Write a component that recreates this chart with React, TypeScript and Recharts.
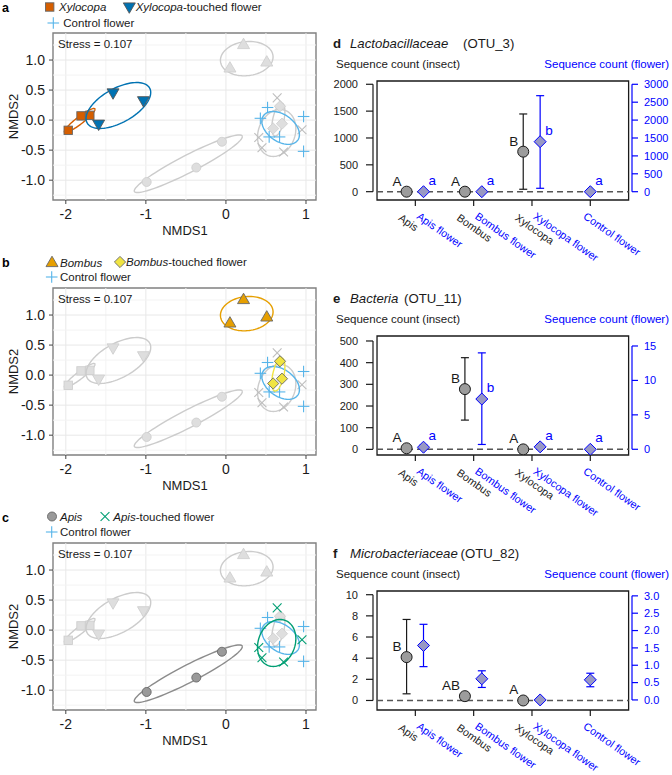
import React from 'react'
import {
  ErrorBar,
  ReferenceArea,
  ReferenceLine,
  Scatter,
  ScatterChart,
  XAxis,
  YAxis,
} from 'recharts'

const FONT = '"Liberation Sans", Arial, Helvetica, sans-serif'
const BLUE = '#0000ff'
const INK = '#1a1a1a'

/* ---------- NMDS scores [NMDS1, NMDS2] ---------- */
const apisPts = [[-0.99, -1.03], [-0.37, -0.79], [-0.05, -0.36]]
const apisFlowerPts = [[0.64, 0.37], [0.41, -0.29], [0.45, -0.46], [0.72, -0.53], [0.95, -0.16]]
const bombusPts = [[0.05, 0.86], [0.22, 1.25], [0.51, 0.96]]
const bombusFlowerPts = [[0.675, 0.23], [0.59, -0.14], [0.7, -0.06]]
const xylocopaPts = [[-1.97, -0.17], [-1.81, 0.07], [-1.7, 0.08]]
const xylocopaFlowerPts = [[-1.41, 0.46], [-1.03, 0.33], [-1.59, -0.06]]
const controlPts = [[0.43, 0.03], [0.52, 0.21], [0.54, -0.28], [0.67, -0.28], [0.97, 0.06], [0.97, -0.52]]

const nmdsXTicks = [-2, -1, 0, 1]
const nmdsYTicks = [-1, -0.5, 0, 0.5, 1]
const nmdsXGrid = [-2, -1.5, -1, -0.5, 0, 0.5, 1]
const nmdsYGrid = [-1.25, -1, -0.75, -0.5, -0.25, 0, 0.25, 0.5, 0.75, 1, 1.25]
const NMDS_X: [number, number] = [-2.16, 1.125]
const NMDS_Y: [number, number] = [-1.33, 1.45]

/* ---------- sequence counts (mean, error bar low / high) ---------- */
const insectNames = ['Apis', 'Bombus', 'Xylocopa']
const flowerNames = ['Apis flower', 'Bombus flower', 'Xylocopa flower', 'Control flower']
const catTicks = [1, 2, 3, 4]

const lactoInsectMean = [0, 0, 745]
const lactoInsectLow = [0, 0, 45]
const lactoInsectHigh = [0, 0, 1447]
const lactoFlowerMean = [0, 0, 1397, 0]
const lactoFlowerLow = [0, 0, 95, 0]
const lactoFlowerHigh = [0, 0, 2682, 0]
const lactoInsectLetters = ['A', 'A', 'B']
const lactoFlowerLetters = ['a', 'a', 'b', 'a']

const bactInsectMean = [5, 278, 0]
const bactInsectLow = [1, 135, 0]
const bactInsectHigh = [9, 423, 0]
const bactFlowerMean = [0.3, 7.3, 0.35, 0]
const bactFlowerLow = [0, 0.7, 0, 0]
const bactFlowerHigh = [0.6, 14, 0.7, 0]
const bactInsectLetters = ['A', 'B', 'A']
const bactFlowerLetters = ['a', 'b', 'a', 'a']

const microInsectMean = [4.1, 0.41, 0]
const microInsectLow = [0.63, 0.2, 0]
const microInsectHigh = [7.66, 0.62, 0]
const microFlowerMean = [1.57, 0.61, 0, 0.58]
const microFlowerLow = [0.96, 0.36, 0, 0.38]
const microFlowerHigh = [2.18, 0.84, 0, 0.77]
const microInsectLetters = ['B', 'AB', 'A']
const microFlowerLetters = ['', '', '', '']

const CAT_X: [number, number] = [0.274, 4.715]
const BOX_X: [number, number] = [0.343, 4.657]

/* ---------- groups ---------- */
const GROUPS: Record<string, any> = {
  apis: { pts: apisPts, kind: 'circle', fill: '#9a9a9a', stroke: '#666', line: '#8c8c8c' },
  apisFlower: { pts: apisFlowerPts, kind: 'x', fill: 'none', stroke: '#009e73', line: '#009e73' },
  bombus: { pts: bombusPts, kind: 'triUp', fill: '#e69f00', stroke: '#666', line: '#e69f00' },
  bombusFlower: { pts: bombusFlowerPts, kind: 'diamond', fill: '#f0e442', stroke: '#666', line: '#f0e442' },
  xylocopa: { pts: xylocopaPts, kind: 'square', fill: '#d55e00', stroke: '#666', line: '#d55e00' },
  xylocopaFlower: { pts: xylocopaFlowerPts, kind: 'triDown', fill: '#0072b2', stroke: '#555', line: '#0072b2' },
  control: { pts: controlPts, kind: 'plus', fill: 'none', stroke: '#56b4e9', line: '#56b4e9' },
}
const PASSIVE_ORDER = ['apis', 'bombus', 'xylocopa', 'xylocopaFlower', 'control', 'apisFlower', 'bombusFlower']

// 95% confidence ellipse of the group centroid (se)
function seEllipse(pts: number[][], steps = 90) {
  const n = pts.length
  const mx = pts.reduce((s, p) => s + p[0], 0) / n
  const my = pts.reduce((s, p) => s + p[1], 0) / n
  let sxx = 0
  let syy = 0
  let sxy = 0
  pts.forEach(([x, y]) => {
    sxx += (x - mx) ** 2
    syy += (y - my) ** 2
    sxy += (x - mx) * (y - my)
  })
  sxx /= n - 1
  syy /= n - 1
  sxy /= n - 1
  const k = Math.sqrt(5.991) / Math.sqrt(n)
  const a = Math.sqrt(sxx)
  const b = sxy / a
  const c = Math.sqrt(Math.max(syy - b * b, 0))
  return Array.from({ length: steps + 1 }, (_, i) => {
    const t = (2 * Math.PI * i) / steps
    return { x: mx + k * a * Math.cos(t), y: my + k * (b * Math.cos(t) + c * Math.sin(t)) }
  })
}

function Marker({ kind, cx, cy, fill, stroke }: any) {
  switch (kind) {
    case 'circle':
      return <circle cx={cx} cy={cy} r={4.5} fill={fill} stroke={stroke} strokeWidth={0.9} />
    case 'square':
      return <rect x={cx - 4.2} y={cy - 4.2} width={8.4} height={8.4} fill={fill} stroke={stroke} strokeWidth={0.9} />
    case 'triUp':
      return (
        <polygon
          points={`${cx},${cy - 6.8} ${cx + 6},${cy + 3.6} ${cx - 6},${cy + 3.6}`}
          fill={fill}
          stroke={stroke}
          strokeWidth={0.9}
        />
      )
    case 'triDown':
      return (
        <polygon
          points={`${cx - 6},${cy - 3.6} ${cx + 6},${cy - 3.6} ${cx},${cy + 6.8}`}
          fill={fill}
          stroke={stroke}
          strokeWidth={0.9}
        />
      )
    case 'diamond':
      return (
        <polygon
          points={`${cx},${cy - 5.6} ${cx + 5.6},${cy} ${cx},${cy + 5.6} ${cx - 5.6},${cy}`}
          fill={fill}
          stroke={stroke}
          strokeWidth={0.9}
        />
      )
    case 'plus':
      return (
        <g stroke={stroke} strokeWidth={1.1}>
          <line x1={cx - 5.8} y1={cy} x2={cx + 5.8} y2={cy} />
          <line x1={cx} y1={cy - 5.8} x2={cx} y2={cy + 5.8} />
        </g>
      )
    case 'x':
      return (
        <g stroke={stroke} strokeWidth={1.1}>
          <line x1={cx - 4.4} y1={cy - 4.4} x2={cx + 4.4} y2={cy + 4.4} />
          <line x1={cx - 4.4} y1={cy + 4.4} x2={cx + 4.4} y2={cy - 4.4} />
        </g>
      )
    default:
      return <g />
  }
}

/* ---------- NMDS panel ---------- */
function NmdsPanel({ top, active }: { top: number; active: string[] }) {
  const passive = PASSIVE_ORDER.filter((k) => !active.includes(k))
  const layers = [...passive.map((k) => ({ k, on: false })), ...active.map((k) => ({ k, on: true }))]
  const tickStyle = { fill: INK, fontSize: 14, fontFamily: FONT }
  return (
    <div style={{ position: 'absolute', left: 0, top, width: 330, height: 245 }}>
      <ScatterChart width={330} height={245} margin={{ top: 33, right: 14, bottom: 0, left: 0 }}>
        <XAxis
          type="number"
          dataKey="x"
          domain={NMDS_X}
          ticks={nmdsXTicks}
          allowDataOverflow
          interval={0}
          height={45}
          axisLine={false}
          tickLine={{ stroke: '#444' }}
          tickSize={4}
          tickMargin={5}
          tick={tickStyle}
        />
        <YAxis
          type="number"
          dataKey="y"
          domain={NMDS_Y}
          ticks={nmdsYTicks}
          allowDataOverflow
          interval={0}
          width={53}
          axisLine={false}
          tickLine={{ stroke: '#444' }}
          tickSize={4}
          tickMargin={4}
          tick={tickStyle}
          tickFormatter={(v: number) => v.toFixed(1)}
        />
        {nmdsXGrid.map((v) => (
          <ReferenceLine key={`gx${v}`} x={v} stroke={Number.isInteger(v) ? '#e8e8e8' : '#f3f3f3'} strokeWidth={1} />
        ))}
        {nmdsYGrid.map((v) => (
          <ReferenceLine
            key={`gy${v}`}
            y={v}
            stroke={Number.isInteger(v * 2) ? '#e8e8e8' : '#f3f3f3'}
            strokeWidth={1}
          />
        ))}
        {layers.flatMap(({ k, on }) => {
          const g = GROUPS[k]
          const gray = g.kind === 'plus' || g.kind === 'x' ? '#bdbdbd' : '#cfcfcf'
          return [
            <Scatter
              key={`e-${k}`}
              data={seEllipse(g.pts)}
              line={{ stroke: on ? g.line : '#cccccc', strokeWidth: 1.4 }}
              lineType="joint"
              shape={() => <g />}
              isAnimationActive={false}
            />,
            <Scatter
              key={`p-${k}`}
              data={g.pts.map(([x, y]: number[]) => ({ x, y }))}
              shape={(p: any) => (
                <Marker
                  kind={g.kind}
                  cx={p.cx}
                  cy={p.cy}
                  fill={g.fill === 'none' ? 'none' : on ? g.fill : '#dedede'}
                  stroke={on ? g.stroke : gray}
                />
              )}
              isAnimationActive={false}
            />,
          ]
        })}
        <ReferenceArea
          x1={NMDS_X[0]}
          x2={NMDS_X[1]}
          y1={NMDS_Y[0]}
          y2={NMDS_Y[1]}
          fill="none"
          stroke="#808080"
          strokeWidth={1.4}
          ifOverflow="visible"
        />
      </ScatterChart>
    </div>
  )
}

/* ---------- count panel ---------- */
function CatTick({ x, y, payload }: any) {
  const i = payload.value - 1
  const bx = x - 17.7
  const by = y + 13.6
  const fx = i < 3 ? x + 0.6 : x - 7.7
  const fy = y + 12
  return (
    <g fontFamily={FONT} fontSize={10.8}>
      {i < 3 && (
        <text x={bx} y={by} fill={INK} transform={`rotate(35 ${bx} ${by})`}>
          {insectNames[i]}
        </text>
      )}
      <text x={fx} y={fy} fill={BLUE} transform={`rotate(35 ${fx} ${fy})`}>
        {flowerNames[i]}
      </text>
    </g>
  )
}

function InsectDot(p: any) {
  return (
    <g>
      <circle cx={p.cx} cy={p.cy} r={5.5} fill="#9c9c9c" stroke={INK} strokeWidth={1} />
      <text x={p.cx - 5} y={p.cy - 6} textAnchor="end" fontSize={13.5} fontFamily={FONT} fill={INK}>
        {p.payload.letter}
      </text>
    </g>
  )
}

function FlowerDot(p: any) {
  const { cx, cy } = p
  return (
    <g>
      <polygon
        points={`${cx},${cy - 6} ${cx + 6},${cy} ${cx},${cy + 6} ${cx - 6},${cy}`}
        fill="#9898c4"
        stroke={BLUE}
        strokeWidth={1}
      />
      <text x={cx + 5} y={cy - 7} fontSize={13.5} fontFamily={FONT} fill={BLUE}>
        {p.payload.letter}
      </text>
    </g>
  )
}

function CountPanel({ top, cfg }: { top: number; cfg: any }) {
  const insectData = cfg.insectMean.map((m: number, i: number) => ({
    x: i + 1 - 0.15,
    y: m,
    err: [m - cfg.insectLow[i], cfg.insectHigh[i] - m],
    letter: cfg.insectLetters[i],
  }))
  const flowerData = cfg.flowerMean.map((m: number, i: number) => ({
    x: i < 3 ? i + 1 + 0.14 : i + 1,
    y: m,
    err: [m - cfg.flowerLow[i], cfg.flowerHigh[i] - m],
    letter: cfg.flowerLetters[i],
  }))
  const lt = cfg.leftTicks
  const rt = cfg.rightTicks
  return (
    <div style={{ position: 'absolute', left: 332, top: top + 70, width: 340, height: 202 }}>
      <ScatterChart width={340} height={202} margin={{ top: 11, right: 0, bottom: 0, left: 0 }}>
        <XAxis
          type="number"
          dataKey="x"
          domain={CAT_X}
          ticks={catTicks}
          allowDataOverflow
          interval={0}
          height={72}
          axisLine={false}
          tickLine={{ stroke: INK, strokeWidth: 1.2 }}
          tickSize={6}
          tickMargin={0}
          tick={(p: any) => <CatTick {...p} />}
        />
        <YAxis
          yAxisId="left"
          type="number"
          dataKey="y"
          domain={cfg.leftDomain}
          ticks={lt}
          allowDataOverflow
          interval={0}
          width={41}
          axisLine={false}
          tickLine={{ stroke: INK, strokeWidth: 1.2 }}
          tickSize={7}
          tickMargin={8}
          tick={{ fill: INK, fontSize: 11, fontFamily: FONT }}
        />
        <YAxis
          yAxisId="right"
          orientation="right"
          type="number"
          dataKey="y"
          domain={cfg.rightDomain}
          ticks={rt}
          allowDataOverflow
          interval={0}
          width={40}
          axisLine={false}
          tickLine={{ stroke: BLUE, strokeWidth: 1.2 }}
          tickSize={6}
          tickMargin={6}
          tick={{ fill: BLUE, fontSize: 11, fontFamily: FONT }}
          tickFormatter={cfg.rightFmt}
        />
        <ReferenceLine
          yAxisId="left"
          segment={[
            { x: CAT_X[0], y: lt[0] },
            { x: CAT_X[0], y: lt[lt.length - 1] },
          ]}
          stroke={INK}
          strokeWidth={1.2}
        />
        <ReferenceLine
          yAxisId="right"
          segment={[
            { x: CAT_X[1], y: rt[0] },
            { x: CAT_X[1], y: rt[rt.length - 1] },
          ]}
          stroke={BLUE}
          strokeWidth={1.2}
        />
        <ReferenceLine
          yAxisId="left"
          segment={[
            { x: BOX_X[0], y: 0 },
            { x: BOX_X[1], y: 0 },
          ]}
          stroke="#555"
          strokeDasharray="6 4"
          strokeWidth={1.5}
        />
        <ReferenceArea
          yAxisId="left"
          x1={BOX_X[0]}
          x2={BOX_X[1]}
          y1={cfg.leftDomain[0]}
          y2={cfg.leftDomain[1]}
          fill="none"
          stroke={INK}
          strokeWidth={1.3}
          ifOverflow="visible"
        />
        <Scatter yAxisId="left" data={insectData} shape={InsectDot} isAnimationActive={false} />
        <Scatter yAxisId="right" data={flowerData} shape={FlowerDot} isAnimationActive={false} />
        {/* error bars drawn over the symbols */}
        <Scatter yAxisId="left" data={insectData} shape={() => <g />} isAnimationActive={false}>
          <ErrorBar dataKey="err" direction="y" width={4} stroke={INK} strokeWidth={1.2} />
        </Scatter>
        <Scatter yAxisId="right" data={flowerData} shape={() => <g />} isAnimationActive={false}>
          <ErrorBar dataKey="err" direction="y" width={4} stroke={BLUE} strokeWidth={1.2} />
        </Scatter>
      </ScatterChart>
    </div>
  )
}

const PANEL_D = {
  insectMean: lactoInsectMean,
  insectLow: lactoInsectLow,
  insectHigh: lactoInsectHigh,
  insectLetters: lactoInsectLetters,
  flowerMean: lactoFlowerMean,
  flowerLow: lactoFlowerLow,
  flowerHigh: lactoFlowerHigh,
  flowerLetters: lactoFlowerLetters,
  leftDomain: [-155, 2061],
  leftTicks: [0, 500, 1000, 1500, 2000],
  rightDomain: [-232, 3092],
  rightTicks: [0, 500, 1000, 1500, 2000, 2500, 3000],
  rightFmt: (v: number) => String(v),
}
const PANEL_E = {
  insectMean: bactInsectMean,
  insectLow: bactInsectLow,
  insectHigh: bactInsectHigh,
  insectLetters: bactInsectLetters,
  flowerMean: bactFlowerMean,
  flowerLow: bactFlowerLow,
  flowerHigh: bactFlowerHigh,
  flowerLetters: bactFlowerLetters,
  leftDomain: [-26, 523],
  leftTicks: [0, 100, 200, 300, 400, 500],
  rightDomain: [-0.83, 16.45],
  rightTicks: [0, 5, 10, 15],
  rightFmt: (v: number) => String(v),
}
const PANEL_F = {
  insectMean: microInsectMean,
  insectLow: microInsectLow,
  insectHigh: microInsectHigh,
  insectLetters: microInsectLetters,
  flowerMean: microFlowerMean,
  flowerLow: microFlowerLow,
  flowerHigh: microFlowerHigh,
  flowerLetters: microFlowerLetters,
  leftDomain: [-0.9, 10.35],
  leftTicks: [0, 2, 4, 6, 8, 10],
  rightDomain: [-0.29, 3.14],
  rightTicks: [0, 0.5, 1, 1.5, 2, 2.5, 3],
  rightFmt: (v: number) => v.toFixed(1),
}

/* ---------- legends / titles ---------- */
function NmdsLegend({ top, letter, items }: { top: number; letter: string; items: any[] }) {
  return (
    <g>
      <text x={2} y={top + 12} fontWeight="bold" fontSize={12.5}>
        {letter}
      </text>
      {items.map((it, i) => (
        <g key={i}>
          <Marker kind={it.kind} cx={it.mx} cy={top + it.row} fill={it.fill} stroke={it.stroke} />
          <text x={it.tx} y={top + it.row + 4.2} fontSize={11.5} fill={INK}>
            <tspan fontStyle={it.italic ? 'italic' : 'normal'}>{it.name}</tspan>
            {it.rest && <tspan>{it.rest}</tspan>}
          </text>
        </g>
      ))}
      <text x={58} y={top + 47.5} fontSize={11.5} fill={INK}>
        Stress = 0.107
      </text>
      <text x={185} y={top + 234.5} fontSize={13} fill={INK} textAnchor="middle">
        NMDS1
      </text>
      <text
        x={18}
        y={top + 116.5}
        fontSize={13}
        fill={INK}
        textAnchor="middle"
        transform={`rotate(-90 18 ${top + 116.5})`}
      >
        NMDS2
      </text>
    </g>
  )
}

const control = GROUPS.control
const legendA = [
  { kind: 'square', mx: 49.7, row: 7, fill: GROUPS.xylocopa.fill, stroke: '#666', tx: 59, name: 'Xylocopa', italic: true },
  { kind: 'triDown', mx: 129.3, row: 6.5, fill: GROUPS.xylocopaFlower.fill, stroke: '#555', tx: 135.7, name: 'Xylocopa', italic: true, rest: '-touched flower' },
  { kind: 'plus', mx: 53.3, row: 23, fill: 'none', stroke: control.stroke, tx: 63.3, name: 'Control flower' },
]
const legendB = [
  { kind: 'triUp', mx: 52, row: 8, fill: GROUPS.bombus.fill, stroke: '#666', tx: 60, name: 'Bombus', italic: true },
  { kind: 'diamond', mx: 120, row: 7, fill: GROUPS.bombusFlower.fill, stroke: '#666', tx: 126, name: 'Bombus', italic: true, rest: '-touched flower' },
  { kind: 'plus', mx: 51.7, row: 22, fill: 'none', stroke: control.stroke, tx: 60, name: 'Control flower' },
]
const legendC = [
  { kind: 'circle', mx: 52, row: 6.5, fill: GROUPS.apis.fill, stroke: '#666', tx: 60, name: 'Apis', italic: true },
  { kind: 'x', mx: 105, row: 6.5, fill: 'none', stroke: GROUPS.apisFlower.stroke, tx: 113.3, name: 'Apis', italic: true, rest: '-touched flower' },
  { kind: 'plus', mx: 51.7, row: 22, fill: 'none', stroke: control.stroke, tx: 60, name: 'Control flower' },
]

function CountTitle({ top, letter, taxon, otu, otuX }: any) {
  return (
    <g>
      <text x={333} y={top + 48} fontWeight="bold" fontSize={13.2} fill={INK}>
        {letter}
      </text>
      <text x={350} y={top + 48} fontStyle="italic" fontSize={13.2} fill={INK}>
        {taxon}
      </text>
      <text x={otuX} y={top + 48} fontSize={13.2} fill={INK}>
        {otu}
      </text>
      <text x={336} y={top + 67.5} fontSize={11.5} fill={INK}>
        Sequence count (insect)
      </text>
      <text x={669} y={top + 67.5} fontSize={11.5} fill={BLUE} textAnchor="end">
        Sequence count (flower)
      </text>
    </g>
  )
}

export default function App() {
  return (
    <div
      style={{
        position: 'absolute',
        left: 0,
        top: 0,
        width: 672,
        height: 775,
        background: '#fff',
        fontFamily: FONT,
        overflow: 'hidden',
      }}
    >
      <NmdsPanel top={0} active={['control', 'xylocopa', 'xylocopaFlower']} />
      <NmdsPanel top={255} active={['control', 'bombus', 'bombusFlower']} />
      <NmdsPanel top={510} active={['control', 'apis', 'apisFlower']} />
      <CountPanel top={0} cfg={PANEL_D} />
      <CountPanel top={255} cfg={PANEL_E} />
      <CountPanel top={510} cfg={PANEL_F} />
      <svg
        width={672}
        height={775}
        style={{ position: 'absolute', left: 0, top: 0, pointerEvents: 'none' }}
        fontFamily={FONT}
      >
        <NmdsLegend top={0} letter="a" items={legendA} />
        <NmdsLegend top={255} letter="b" items={legendB} />
        <NmdsLegend top={510} letter="c" items={legendC} />
        <CountTitle top={0} letter="d" taxon="Lactobacillaceae" otu="(OTU_3)" otuX={463} />
        <CountTitle top={255} letter="e" taxon="Bacteria" otu="(OTU_11)" otuX={404} />
        <CountTitle top={510} letter="f" taxon="Microbacteriaceae" otu="(OTU_82)" otuX={460.5} />
      </svg>
    </div>
  )
}
